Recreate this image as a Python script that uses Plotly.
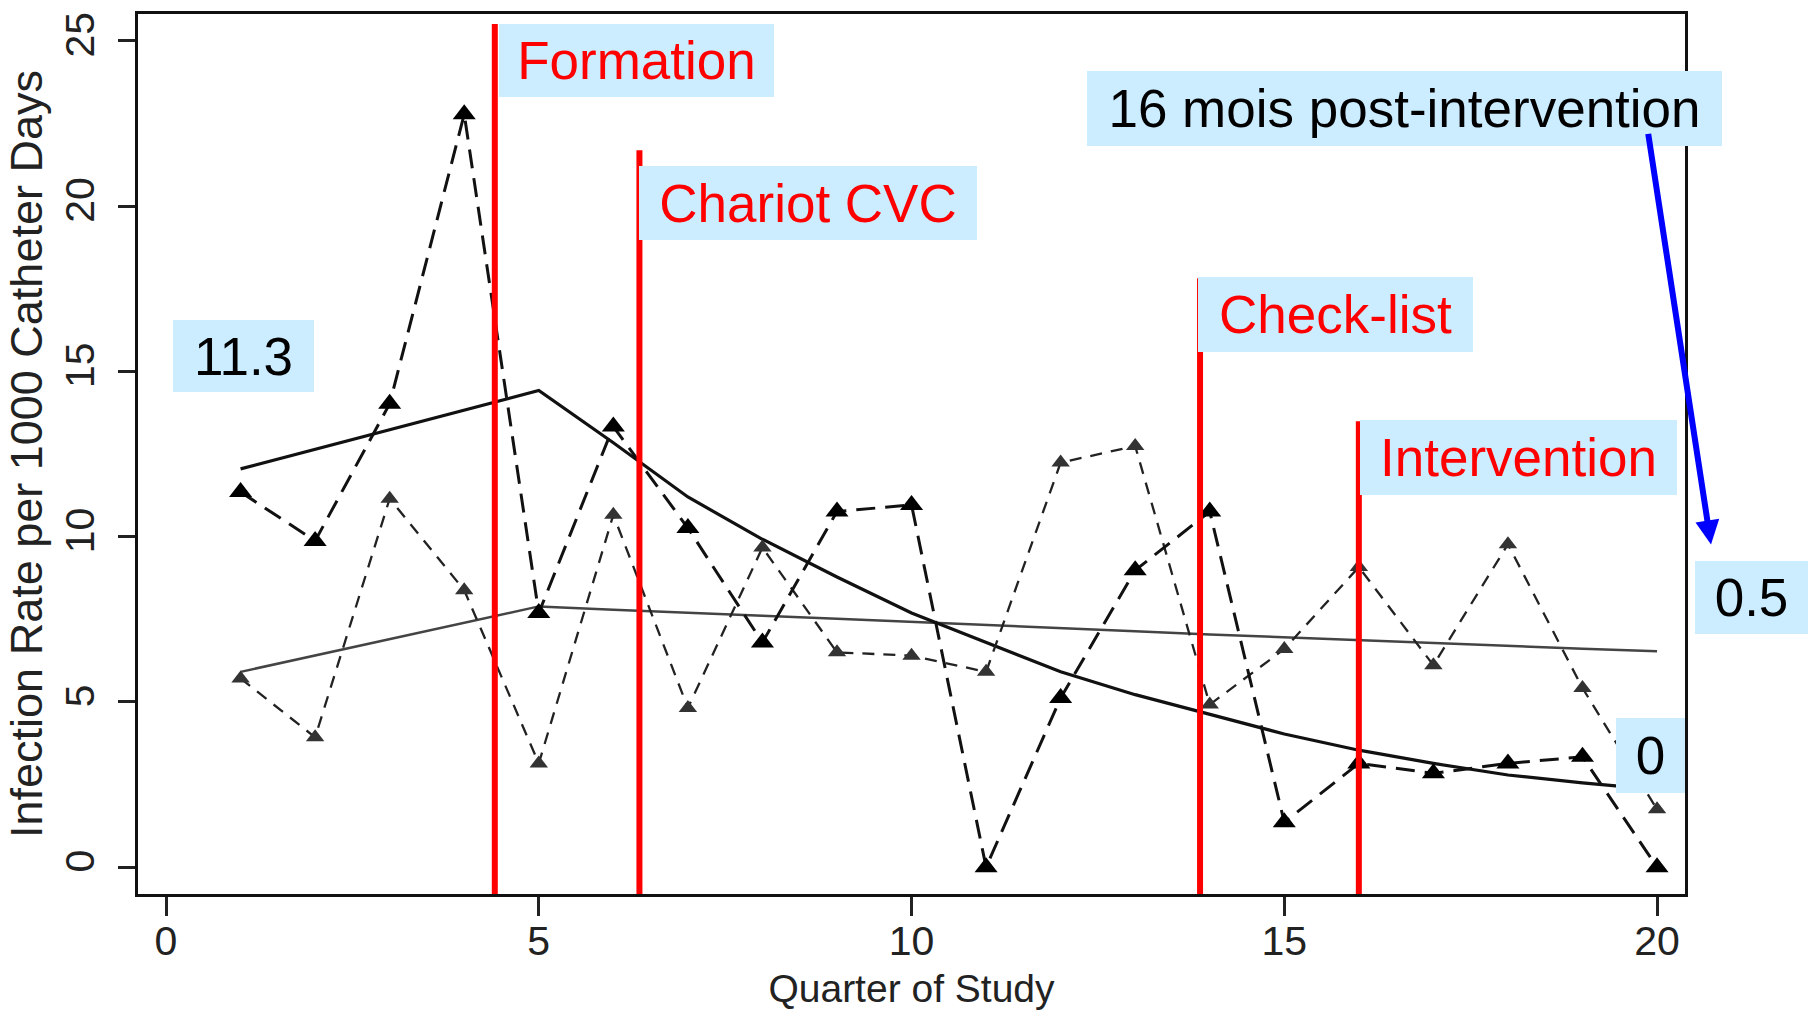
import plotly.graph_objects as go

# ---------------- data ----------------
quarters = list(range(1, 21))
rate_dark = [11.35, 9.87, 14.02, 22.78, 7.69, 13.33, 10.26, 6.8, 10.76, 10.96,
             0.0, 5.12, 8.98, 10.76, 1.36, 3.14, 2.84, 3.14, 3.34, 0.0]
rate_light = [5.71, 3.93, 11.15, 8.38, 3.14, 10.66, 4.82, 9.67, 6.5, 6.4,
              5.91, 12.24, 12.74, 4.92, 6.6, 9.08, 6.11, 9.77, 5.42, 1.75]
trend_dark = [12.05, 12.64, 13.23, 13.83, 14.42, 12.84, 11.2, 9.92, 8.78, 7.69,
              6.8, 5.91, 5.22, 4.62, 4.03, 3.54, 3.14, 2.79, 2.55, 2.35]
trend_light = [5.91, 6.4, 6.9, 7.39, 7.89, 7.79, 7.69, 7.61, 7.52, 7.43,
               7.33, 7.24, 7.14, 7.04, 6.95, 6.87, 6.78, 6.7, 6.61, 6.53]

event_quarters = [4.41, 6.35, 13.87, 16.0]
event_tops = [25.51, 21.69, 17.82, 13.49]
event_labels = ["Formation", "Chariot CVC", "Check-list", "Intervention"]

x_ticks = [0, 5, 10, 15, 20]
y_ticks = [0, 5, 10, 15, 20, 25]
x_title = "Quarter of Study"
y_title = "Infection Rate per 1000 Catheter Days"
note_post = "16 mois post-intervention"
note_start = "11.3"
note_end_a = "0.5"
note_end_b = "0"

# ---------------- layout geometry ----------------
W, H = 1811, 1015
L, R, T, B = 138, 1685, 11, 897
XR = [-0.376, 20.375]
YR = [-0.81, 25.81]


def px(X):
    return (X - L) / (R - L)


def py(Y):
    return (B - Y) / (B - T)


FONT = "Liberation Sans, Arial, sans-serif"
BOXC = "#CCECFF"

fig = go.Figure()

fig.add_trace(go.Scatter(x=quarters, y=trend_light, mode="lines",
                         line=dict(color="#444444", width=2.5),
                         hoverinfo="skip"))
fig.add_trace(go.Scatter(x=quarters, y=trend_dark, mode="lines",
                         line=dict(color="#111111", width=3.2),
                         hoverinfo="skip"))
fig.add_trace(go.Scatter(x=quarters, y=rate_light, mode="lines+markers",
                         line=dict(color="#222222", width=2.3, dash="12px,9px"),
                         marker=dict(symbol="triangle-up", size=16, color="#333333")))
fig.add_trace(go.Scatter(x=quarters, y=rate_dark, mode="lines+markers",
                         line=dict(color="#111111", width=3, dash="19px,10px"),
                         marker=dict(symbol="triangle-up", size=20, color="#000000")))

shapes = []
for q, top in zip(event_quarters, event_tops):
    shapes.append(dict(type="line", xref="x", yref="y", x0=q, x1=q,
                       y0=YR[0], y1=top, line=dict(color="#FF0000", width=6),
                       layer="above"))

annotations = []


def box(text, x0, x1, y0, y1, color):
    annotations.append(dict(
        xref="paper", yref="paper", x=px(x0), y=py(y0),
        xanchor="left", yanchor="top", showarrow=False,
        width=x1 - x0, height=y1 - y0, borderpad=0, borderwidth=0,
        bgcolor=BOXC, align="center", valign="middle",
        text=text, font=dict(family=FONT, size=53, color=color)))


box(event_labels[0], 499, 774, 21, 94, "#FF0000")
box(event_labels[1], 639, 977, 164, 238, "#FF0000")
box(event_labels[2], 1198, 1473, 276, 351, "#FF0000")
box(event_labels[3], 1360, 1677, 420, 495, "#FF0000")
box(note_post, 1087, 1722, 68, 143, "#000000")
box(note_start, 173, 314, 319, 391, "#000000")
box(note_end_a, 1695, 1808, 562, 635, "#000000")
box(note_end_b, 1616, 1685, 720, 795, "#000000")

annotations.append(dict(
    xref="paper", yref="paper", x=px(1711), y=py(545),
    ax=1648 - 1711, ay=133 - 545, text="", showarrow=True,
    arrowhead=2, arrowsize=0.8, arrowwidth=6, arrowcolor="#0000FF"))

axis_common = dict(showline=True, linewidth=3, linecolor="#111111", mirror=True,
                   ticks="outside", tickwidth=2.5, tickcolor="#222222",
                   showgrid=False, zeroline=False,
                   tickfont=dict(family=FONT, size=41, color="#222222"))

fig.update_layout(
    width=W, height=H,
    margin=dict(l=L, r=W - R, t=T, b=H - B, pad=0),
    plot_bgcolor="white", paper_bgcolor="white",
    showlegend=False,
    shapes=shapes, annotations=annotations,
    xaxis=dict(range=XR, tickvals=x_ticks, ticklen=19, ticklabelstandoff=-10,
               title=dict(text=x_title, standoff=12,
                          font=dict(family=FONT, size=39, color="#222222")),
               **axis_common),
    yaxis=dict(range=YR, tickvals=y_ticks, tickangle=-90, ticklen=17,
               ticklabelstandoff=8,
               title=dict(text=y_title, standoff=0,
                          font=dict(family=FONT, size=45, color="#222222")),
               **axis_common),
)

fig.write_html("out.html")
